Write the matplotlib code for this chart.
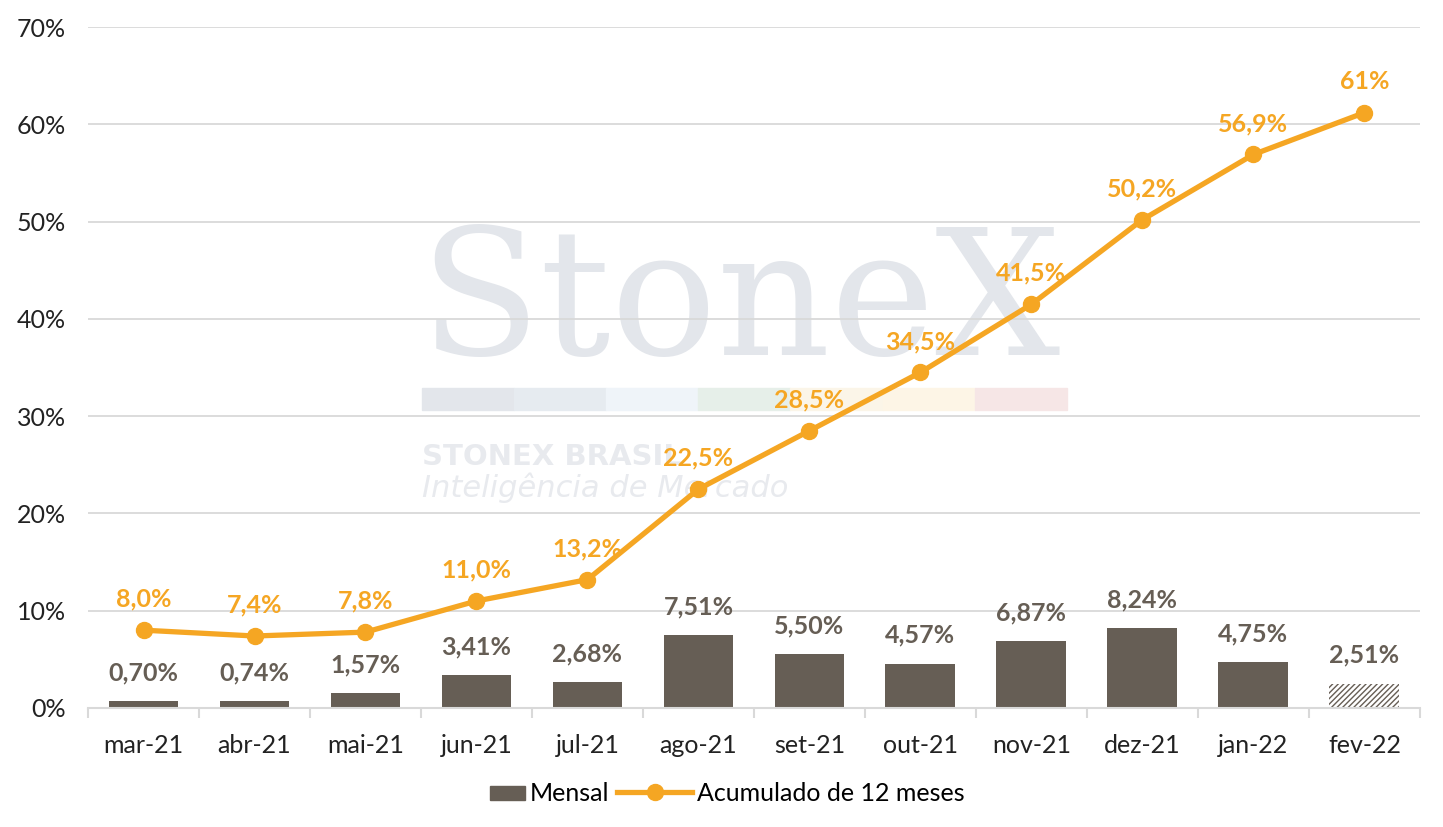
import matplotlib.pyplot as plt
from matplotlib.patches import Rectangle, Patch
from matplotlib.lines import Line2D
from matplotlib.legend_handler import HandlerPatch

meses = ["mar-21", "abr-21", "mai-21", "jun-21", "jul-21", "ago-21",
         "set-21", "out-21", "nov-21", "dez-21", "jan-22", "fev-22"]
mensal = [0.70, 0.74, 1.57, 3.41, 2.68, 7.51, 5.50, 4.57, 6.87, 8.24, 4.75, 2.51]
acumulado = [8.0, 7.4, 7.8, 11.0, 13.2, 22.5, 28.5, 34.5, 41.5, 50.2, 56.9, 61.2]
rot_mensal = ["0,70%", "0,74%", "1,57%", "3,41%", "2,68%", "7,51%",
              "5,50%", "4,57%", "6,87%", "8,24%", "4,75%", "2,51%"]
rot_acum = ["8,0%", "7,4%", "7,8%", "11,0%", "13,2%", "22,5%",
            "28,5%", "34,5%", "41,5%", "50,2%", "56,9%", "61%"]

cinza = "#665e55"
laranja = "#f5a623"
grade = "#d9d9d9"

plt.rcParams['font.family'] = ['Lato', 'DejaVu Sans']

fig = plt.figure(figsize=(14.43, 8.27), dpi=100)
ax = fig.add_axes([0.061, 0.1439, 0.923, 0.8234])
ax.set_zorder(1)
ax.patch.set_alpha(0)

# marca d'agua (fica atras da grade e das series)
fig.text(0.513, 1 - 355/827, "StoneX", family="DejaVu Serif", fontsize=127,
         color="#e3e6eb", ha="center", va="baseline", zorder=0)
faixas = ["#e3e6eb", "#e6ebf0", "#eff4f9", "#e6efe9", "#fbf5e8", "#fdf5e6", "#f6e6e6"]
for i, c in enumerate(faixas):
    fig.patches.append(Rectangle(((422 + i*92.1)/1443, 1 - 410/827), 92.1/1443, 22/827,
                                 transform=fig.transFigure, color=c, zorder=0))
fig.text(422/1443, 1 - 465/827, "STONEX BRASIL", family="DejaVu Sans", fontsize=21,
         fontweight="bold", color="#e8eaee", ha="left", va="baseline", zorder=0)
fig.text(422/1443, 1 - 497/827, "Inteligência de Mercado", family="DejaVu Sans",
         fontsize=22, style="italic", color="#e8eaee", ha="left", va="baseline", zorder=0)

x = list(range(len(meses)))
ax.bar(x[:-1], mensal[:-1], width=0.63, color=cinza, zorder=2)
ax.bar(x[-1], mensal[-1], width=0.63, facecolor="white", edgecolor=cinza,
       hatch="//////", linewidth=0, zorder=2)
ax.plot(x, acumulado, color=laranja, linewidth=3.8, marker="o", markersize=11.5, zorder=3)

for i in x:
    ax.annotate(rot_mensal[i], (i, mensal[i]), xytext=(0, 12), textcoords="offset points",
                ha="center", va="bottom", fontsize=18, fontweight="bold", color=cinza)
    ax.annotate(rot_acum[i], (i, acumulado[i]), xytext=(0, 14), textcoords="offset points",
                ha="center", va="bottom", fontsize=18, fontweight="bold", color=laranja)

ax.set_xlim(-0.5, 11.5)
ax.set_ylim(0, 70)
ax.set_yticks(range(0, 71, 10))
ax.set_yticklabels([f"{v}%" for v in range(0, 71, 10)])
ax.set_xticks(x)
ax.set_xticklabels(meses)
ax.set_xticks([i + 0.5 for i in range(-1, 12)], minor=True)
ax.tick_params(axis="x", which="major", length=0, pad=19, labelsize=18, labelcolor="#222222")
ax.tick_params(axis="x", which="minor", length=7, width=1.5, color=grade)
ax.tick_params(axis="y", length=0, pad=16, labelsize=18, labelcolor="#222222")
ax.grid(axis="y", color=grade, linewidth=1.3, zorder=0)
ax.set_axisbelow(True)
for s in ["top", "right", "left"]:
    ax.spines[s].set_visible(False)
ax.spines["bottom"].set_color(grade)
ax.spines["bottom"].set_linewidth(1.5)


def ret_pequeno(legend, orig_handle, xdescent, ydescent, width, height, fontsize):
    lw = width * 0.47
    return Rectangle((-xdescent + width - lw, -ydescent + height*0.05), lw, height*0.8)


h = [Patch(color=cinza), Line2D([], [], color=laranja, linewidth=3.8, marker="o", markersize=11.5)]
ax.legend(h, ["Mensal", "Acumulado de 12 meses"], loc="center", bbox_to_anchor=(0.465, -0.125),
          ncol=2, frameon=False, fontsize=18, handlelength=3.0, columnspacing=0.3,
          handletextpad=0.2, handler_map={Patch: HandlerPatch(patch_func=ret_pequeno)})

fig.savefig("out.png", dpi=100)
